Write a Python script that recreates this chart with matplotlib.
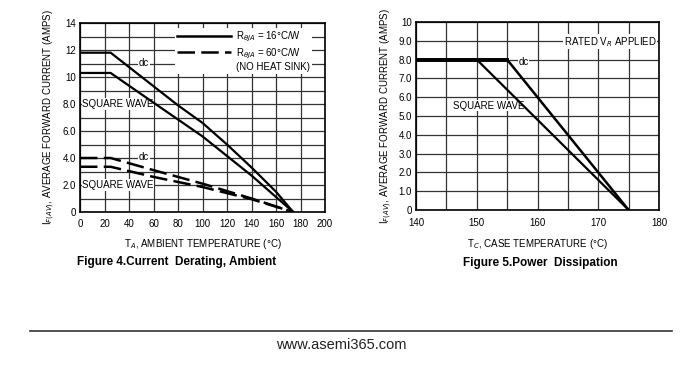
import matplotlib
matplotlib.use('Agg')
import matplotlib.pyplot as plt
from matplotlib.lines import Line2D

plt.rcParams['font.family'] = ['Liberation Sans Narrow', 'Liberation Sans', 'DejaVu Sans']

# Figure 4 data (ambient derating)
amb_t_dc16 = [0, 25, 80, 100, 120, 140, 160, 174]
amb_i_dc16 = [11.8, 11.8, 7.9, 6.6, 5.0, 3.3, 1.5, 0]
amb_t_sq16 = [0, 25, 60, 100, 140, 174]
amb_i_sq16 = [10.3, 10.3, 8.1, 5.6, 2.7, 0]
amb_t_dc60 = [0, 25, 60, 100, 140, 174]
amb_i_dc60 = [4.0, 4.0, 3.1, 2.1, 1.0, 0]
amb_t_sq60 = [0, 25, 60, 100, 140, 174]
amb_i_sq60 = [3.35, 3.35, 2.6, 1.85, 0.95, 0]

# Figure 5 data (case temperature)
case_t_dc = [140, 155, 175]
case_i_dc = [8.0, 8.0, 0]
case_t_sq = [140, 150, 175]
case_i_sq = [8.0, 8.0, 0]

fig = plt.figure(figsize=(7, 3.73), dpi=100)

grid_kw = dict(color='#333333', linewidth=0.9)
lab_fs = 7
dash = (0, (7, 2.5))
bbox_w = dict(facecolor='white', edgecolor='none', pad=0.5)

# ---- Figure 4 ----
ax1 = fig.add_axes([80 / 700, 1 - 212 / 373, 245 / 700, 189 / 373])
ax1.plot(amb_t_dc16, amb_i_dc16, color='black', lw=1.6, zorder=3)
ax1.plot(amb_t_sq16, amb_i_sq16, color='black', lw=1.6, zorder=3)
ax1.plot(amb_t_dc60, amb_i_dc60, color='black', lw=1.8, ls=dash, zorder=3)
ax1.plot(amb_t_sq60, amb_i_sq60, color='black', lw=1.8, ls=dash, zorder=3)
ax1.set_xlim(0, 200)
ax1.set_ylim(0, 14)
ax1.set_xticks(range(0, 201, 20))
ax1.set_yticks(range(0, 15, 2))
ax1.set_yticklabels(['0', '2.0', '4.0', '6.0', '8.0', '10', '12', '14'])
ax1.set_yticks(range(1, 15, 2), minor=True)
ax1.grid(True, which='both', **grid_kw)
ax1.set_axisbelow(True)
ax1.tick_params(which='both', length=0, labelsize=lab_fs, pad=3)
ax1.tick_params(axis='x', pad=5)
ax1.set_xlabel('T$_A$, AMBIENT TEMPERATURE (°C)', fontsize=lab_fs, labelpad=6)
ax1.set_ylabel('I$_{F(AV)}$, AVERAGE FORWARD CURRENT (AMPS)', fontsize=lab_fs, labelpad=4)
ax1.text(52, 11.0, 'dc', fontsize=lab_fs, ha='center', va='center', bbox=bbox_w, zorder=2)
ax1.text(31, 8.0, 'SQUARE WAVE', fontsize=lab_fs, ha='center', va='center', bbox=bbox_w, zorder=2)
ax1.text(52, 4.1, 'dc', fontsize=lab_fs, ha='center', va='center', bbox=bbox_w, zorder=2)
ax1.text(31, 2.0, 'SQUARE WAVE', fontsize=lab_fs, ha='center', va='center', bbox=bbox_w, zorder=2)
handles = [Line2D([], [], color='black', lw=1.8),
           Line2D([], [], color='black', lw=1.8, ls=dash),
           Line2D([], [], color='none')]
labels = ['R$_{θJA}$ = 16°C/W', 'R$_{θJA}$ = 60°C/W', '(NO HEAT SINK)']
leg = ax1.legend(handles, labels, loc='upper right', bbox_to_anchor=(0.965, 1.0),
                 fontsize=lab_fs, frameon=True, fancybox=False, handlelength=5.5,
                 labelspacing=0.2, borderpad=0.2, handletextpad=0.5)
leg.get_frame().set_edgecolor('none')
leg.get_frame().set_alpha(1)
for sp in ax1.spines.values():
    sp.set_linewidth(1.2)
fig.text(177 / 700, 1 - 262 / 373, 'Figure 4.Current  Derating, Ambient', fontsize=8.5,
         fontweight='bold', family=['Liberation Sans', 'DejaVu Sans'], ha='center', va='center')

# ---- Figure 5 ----
ax2 = fig.add_axes([416 / 700, 1 - 210 / 373, 243 / 700, 188 / 373])
ax2.plot(case_t_dc, case_i_dc, color='black', lw=1.8, zorder=3)
ax2.plot(case_t_sq, case_i_sq, color='black', lw=1.6, zorder=3)
ax2.plot(case_t_dc[:2], case_i_dc[:2], color='black', lw=2.8, zorder=3)
ax2.set_xlim(140, 180)
ax2.set_ylim(0, 10)
ax2.set_xticks(range(140, 181, 10))
ax2.set_xticks(range(145, 180, 10), minor=True)
ax2.set_yticks(range(0, 11))
ax2.set_yticklabels(['0', '1.0', '2.0', '3.0', '4.0', '5.0', '6.0', '7.0', '8.0', '9.0', '10'])
ax2.grid(True, which='both', **grid_kw)
ax2.set_axisbelow(True)
ax2.tick_params(which='both', length=0, labelsize=lab_fs, pad=3)
ax2.tick_params(axis='x', pad=6)
ax2.set_xlabel('T$_C$, CASE TEMPERATURE (°C)', fontsize=lab_fs, labelpad=6)
ax2.set_ylabel('I$_{F(AV)}$, AVERAGE FORWARD CURRENT (AMPS)', fontsize=lab_fs, labelpad=3)
ax2.text(157.7, 7.85, 'dc', fontsize=lab_fs, ha='center', va='center', bbox=bbox_w, zorder=2)
ax2.text(152, 5.55, 'SQUARE WAVE', fontsize=lab_fs, ha='center', va='center', bbox=bbox_w, zorder=2)
ax2.text(172, 8.95, 'RATED V$_R$ APPLIED', fontsize=lab_fs, ha='center', va='center', bbox=bbox_w, zorder=2)
for sp in ax2.spines.values():
    sp.set_linewidth(1.2)
fig.text(540 / 700, 1 - 263 / 373, 'Figure 5.Power  Dissipation', fontsize=8.5,
         fontweight='bold', family=['Liberation Sans', 'DejaVu Sans'], ha='center', va='center')

# ---- footer ----
fig.add_artist(Line2D([30 / 700, 672 / 700], [1 - 331 / 373, 1 - 331 / 373],
                      color='#333333', lw=1.2))
fig.text(341 / 700, 1 - 345 / 373, 'www.asemi365.com', fontsize=10.5,
         family=['Liberation Sans', 'DejaVu Sans'], ha='center', va='center', color='#222222')

fig.savefig('out.png', dpi=100)
